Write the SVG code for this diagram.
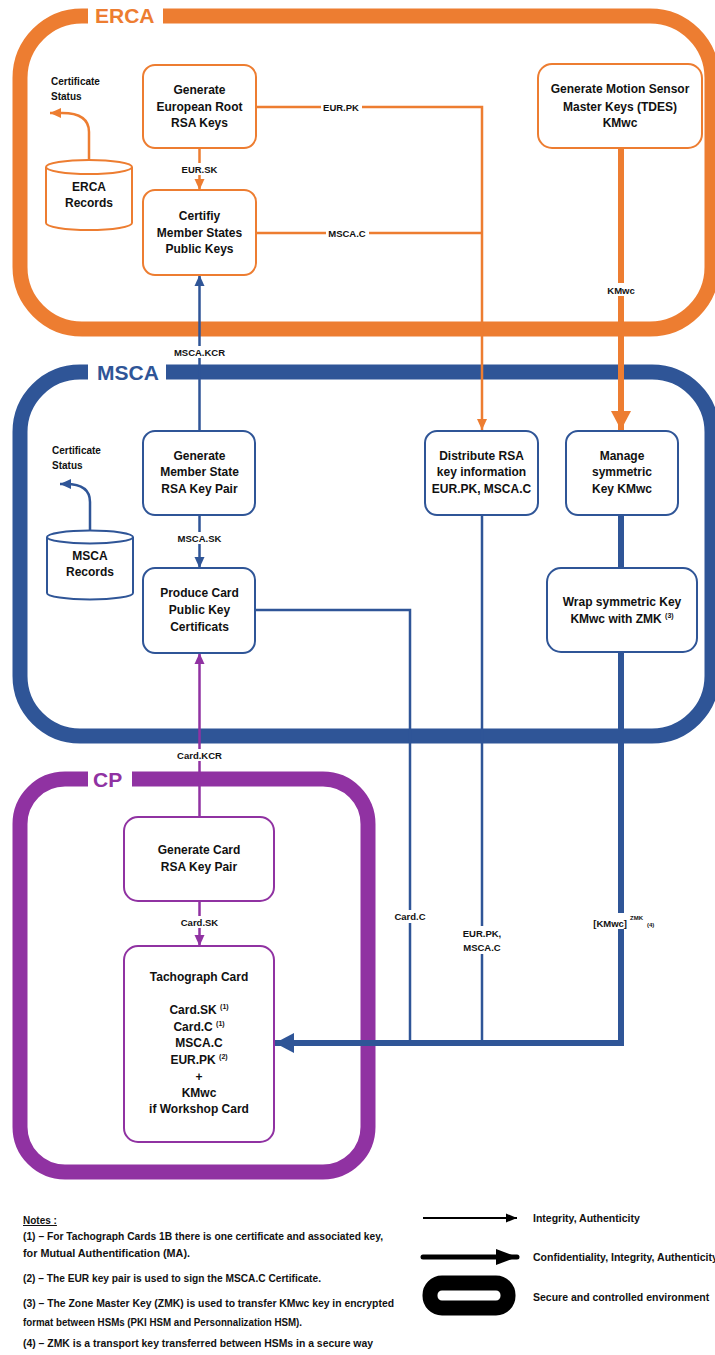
<svg xmlns="http://www.w3.org/2000/svg" width="715" height="1355" viewBox="0 0 715 1355">
<style>
text{font-family:"Liberation Sans",Arial,sans-serif;font-weight:bold;fill:#111}
.nt{font-size:12px;text-anchor:middle}
.el{font-size:9.5px;text-anchor:middle}
.cs{font-size:10px}
.big{font-size:21px}
.node{fill:#fff;stroke-width:2}
.o{stroke:#ED7D31}
.b{stroke:#2F5597}
.p{stroke:#9032A2}
.cont{fill:none;stroke-width:15}
.ln{fill:none;stroke-width:2.5}
.thk{fill:none;stroke-width:6}
.bg{fill:#fff}
.note{font-size:10px}
.leg{font-size:10.5px}
.sup{font-size:7px}
</style>
<defs>
<marker id="ao" markerUnits="userSpaceOnUse" markerWidth="12" markerHeight="12" refX="11" refY="6" orient="auto"><path d="M0,1 L11,6 L0,11 z" fill="#ED7D31"/></marker>
<marker id="ab" markerUnits="userSpaceOnUse" markerWidth="12" markerHeight="12" refX="11" refY="6" orient="auto"><path d="M0,1 L11,6 L0,11 z" fill="#2F5597"/></marker>
<marker id="ap" markerUnits="userSpaceOnUse" markerWidth="12" markerHeight="12" refX="11" refY="6" orient="auto"><path d="M0,1 L11,6 L0,11 z" fill="#9032A2"/></marker>
<marker id="aot" markerUnits="userSpaceOnUse" markerWidth="20" markerHeight="22" refX="19" refY="11" orient="auto"><path d="M0,1 L19,11 L0,21 z" fill="#ED7D31"/></marker>
<marker id="abt" markerUnits="userSpaceOnUse" markerWidth="20" markerHeight="22" refX="19" refY="11" orient="auto"><path d="M0,1 L19,11 L0,21 z" fill="#2F5597"/></marker>
<marker id="ak" markerUnits="userSpaceOnUse" markerWidth="12" markerHeight="12" refX="11" refY="6" orient="auto"><path d="M0,1.5 L11,6 L0,10.5 z" fill="#000"/></marker>
<marker id="akt" markerUnits="userSpaceOnUse" markerWidth="22" markerHeight="20" refX="21" refY="10" orient="auto"><path d="M0,2 L21,10 L0,18 z" fill="#000"/></marker>
</defs>
<rect width="715" height="1355" fill="#fff"/>

<g id="containers">
<g id="erca-env">
<rect class="cont o" x="20" y="16" width="692" height="313" rx="62"/>
<rect class="bg" x="88" y="4" width="75" height="24"/>
<text class="big" x="95" y="23" style="fill:#ED7D31">ERCA</text>
</g>
<g id="msca-env">
<rect class="cont b" x="20" y="372" width="692" height="364" rx="60"/>
<rect class="bg" x="88" y="360" width="78" height="24"/>
<text class="big" x="97" y="380" style="fill:#2F5597">MSCA</text>
</g>
<g id="cp-env">
<rect class="cont p" x="20" y="779" width="348" height="393" rx="45"/>
<rect class="bg" x="88" y="767" width="44" height="24"/>
<text class="big" x="93" y="787" style="fill:#9032A2">CP</text>
</g>
</g>

<g id="connectors">
<!-- ERCA -->
<path class="ln o" d="M89 160 V132 Q89 113 62 113 L50 113" marker-end="url(#ao)"/>
<path class="ln o" d="M199.5 148 V190" marker-end="url(#ao)"/>
<rect class="bg" x="180" y="163" width="39" height="12"/>
<text class="el" x="199.5" y="172.5">EUR.SK</text>
<path class="ln o" d="M256 107 H482 V430" marker-end="url(#ao)"/>
<rect class="bg" x="321" y="101" width="41" height="12"/>
<text class="el" x="341" y="110.5">EUR.PK</text>
<path class="ln o" d="M256 233 H482"/>
<rect class="bg" x="326" y="227" width="43" height="12"/>
<text class="el" x="347" y="236.5">MSCA.C</text>
<path class="thk o" d="M621 148 V430" marker-end="url(#aot)"/>
<rect class="bg" x="603" y="283" width="36" height="13"/>
<text class="el" x="621" y="293.5">KMwc</text>
<!-- MSCA -->
<path class="ln b" d="M199.5 431 V275" marker-end="url(#ab)"/>
<rect class="bg" x="172" y="346" width="55" height="12"/>
<text class="el" x="199.5" y="355.5">MSCA.KCR</text>
<path class="ln b" d="M90 531 V502 Q90 484 66 484 L60 484" marker-end="url(#ab)"/>
<path class="ln b" d="M199.5 515 V568" marker-end="url(#ab)"/>
<rect class="bg" x="176" y="532" width="47" height="12"/>
<text class="el" x="199.5" y="541.5">MSCA.SK</text>
<path class="thk b" d="M621 515 V568"/>
<path class="ln b" d="M255 610 H410 V1043"/>
<path class="ln b" d="M482 515 V1043"/>
<path class="thk b" d="M621 652 V1043 H275" stroke-linejoin="miter" marker-end="url(#abt)"/>
<rect class="bg" x="391" y="910" width="38" height="13"/>
<text class="el" x="410" y="919.5">Card.C</text>
<rect class="bg" x="461" y="926" width="42" height="28"/>
<text class="el" x="482" y="936.5">EUR.PK,</text>
<text class="el" x="482" y="950.5">MSCA.C</text>
<rect class="bg" x="586" y="913" width="42" height="16"/>
<text class="el" x="627" y="926.5" style="text-anchor:end">[KMwc]</text>
<text x="630" y="920" style="font-size:6px">ZMK</text>
<text x="647" y="927" style="font-size:6px">(4)</text>
<!-- CP -->
<path class="ln p" d="M199.5 817 V653" marker-end="url(#ap)"/>
<rect class="bg" x="171" y="749" width="57" height="12"/>
<text class="el" x="199.5" y="758.5">Card.KCR</text>
<path class="ln p" d="M199.5 901 V946" marker-end="url(#ap)"/>
<rect class="bg" x="178" y="916" width="43" height="12"/>
<text class="el" x="199.5" y="925.5">Card.SK</text>
</g>

<g id="erca-records">
<path class="node o" d="M46 167 A43 7 0 0 1 132 167 V223 A43 7 0 0 1 46 223 Z"/>
<path class="o" fill="none" stroke-width="2" d="M46 167 A43 7 0 0 0 132 167"/>
<text class="nt" x="89" y="191">ERCA</text>
<text class="nt" x="89" y="207">Records</text>
<text class="cs" x="51" y="85">Certificate</text>
<text class="cs" x="51" y="100">Status</text>
</g>
<g id="gen-eur-root">
<rect class="node o" x="143" y="65" width="113" height="83" rx="12"/>
<text class="nt" x="199.5" y="94">Generate</text>
<text class="nt" x="199.5" y="111">European Root</text>
<text class="nt" x="199.5" y="127">RSA Keys</text>
</g>
<g id="certify-ms">
<rect class="node o" x="143" y="190" width="113" height="85" rx="12"/>
<text class="nt" x="199.5" y="220">Certifiy</text>
<text class="nt" x="199.5" y="237">Member States</text>
<text class="nt" x="199.5" y="253">Public Keys</text>
</g>
<g id="gen-motion">
<rect class="node o" x="538" y="64" width="164" height="84" rx="14"/>
<text class="nt" x="620" y="93">Generate Motion Sensor</text>
<text class="nt" x="620" y="111">Master Keys (TDES)</text>
<text class="nt" x="620" y="127">KMwc</text>
</g>

<g id="msca-records">
<path class="node b" d="M47 537 A43 6.5 0 0 1 133 537 V593 A43 6.5 0 0 1 47 593 Z"/>
<path class="b" fill="none" stroke-width="2" d="M47 537 A43 6.5 0 0 0 133 537"/>
<text class="nt" x="90" y="560">MSCA</text>
<text class="nt" x="90" y="576">Records</text>
<text class="cs" x="52" y="454">Certificate</text>
<text class="cs" x="52" y="469">Status</text>
</g>
<g id="gen-ms-keypair">
<rect class="node b" x="143" y="431" width="112" height="84" rx="12"/>
<text class="nt" x="199.5" y="460">Generate</text>
<text class="nt" x="199.5" y="476">Member State</text>
<text class="nt" x="199.5" y="493">RSA Key Pair</text>
</g>
<g id="produce-card-cert">
<rect class="node b" x="143" y="568" width="112" height="85" rx="12"/>
<text class="nt" x="199.5" y="597">Produce Card</text>
<text class="nt" x="199.5" y="614">Public Key</text>
<text class="nt" x="199.5" y="631">Certificats</text>
</g>
<g id="distribute-rsa">
<rect class="node b" x="425" y="431" width="113" height="84" rx="12"/>
<text class="nt" x="481.5" y="460">Distribute RSA</text>
<text class="nt" x="481.5" y="476">key information</text>
<text class="nt" x="481.5" y="493">EUR.PK, MSCA.C</text>
</g>
<g id="manage-sym">
<rect class="node b" x="566" y="431" width="112" height="84" rx="12"/>
<text class="nt" x="622" y="460">Manage</text>
<text class="nt" x="622" y="476">symmetric</text>
<text class="nt" x="622" y="493">Key KMwc</text>
</g>
<g id="wrap-sym">
<rect class="node b" x="547" y="568" width="150" height="84" rx="14"/>
<text class="nt" x="622" y="606">Wrap symmetric Key</text>
<text class="nt" x="622" y="623">KMwc with ZMK <tspan class="sup" dy="-5">(3)</tspan></text>
</g>

<g id="gen-card-keypair">
<rect class="node p" x="124" y="817" width="150" height="84" rx="14"/>
<text class="nt" x="199" y="854">Generate Card</text>
<text class="nt" x="199" y="871">RSA Key Pair</text>
</g>
<g id="tacho-card">
<rect class="node p" x="124" y="946" width="150" height="196" rx="14"/>
<text class="nt" x="199" y="981">Tachograph Card</text>
<text class="nt" x="199" y="1014">Card.SK <tspan class="sup" dy="-5">(1)</tspan></text>
<text class="nt" x="199" y="1031">Card.C <tspan class="sup" dy="-5">(1)</tspan></text>
<text class="nt" x="199" y="1047">MSCA.C</text>
<text class="nt" x="199" y="1064">EUR.PK <tspan class="sup" dy="-5">(2)</tspan></text>
<text class="nt" x="199" y="1081">+</text>
<text class="nt" x="199" y="1097">KMwc</text>
<text class="nt" x="199" y="1113">if Workshop Card</text>
</g>

<g id="notes">
<text class="note" x="23" y="1224" text-decoration="underline">Notes :</text>
<text class="note" x="23" y="1240" textLength="360" lengthAdjust="spacingAndGlyphs">(1) – For Tachograph Cards 1B there is one certificate and associated key,</text>
<text class="note" x="23" y="1257" textLength="167" lengthAdjust="spacingAndGlyphs">for Mutual Authentification (MA).</text>
<text class="note" x="23" y="1282" textLength="298" lengthAdjust="spacingAndGlyphs">(2) – The EUR key pair is used to sign the MSCA.C Certificate.</text>
<text class="note" x="23" y="1307" textLength="371" lengthAdjust="spacingAndGlyphs">(3) – The Zone Master Key (ZMK) is used to transfer KMwc key in encrypted</text>
<text class="note" x="23" y="1326" textLength="279" lengthAdjust="spacingAndGlyphs">format between HSMs (PKI HSM and Personnalization HSM).</text>
<text class="note" x="23" y="1347" textLength="350" lengthAdjust="spacingAndGlyphs">(4) – ZMK is a transport key transferred between HSMs in a secure way</text>
</g>

<g id="legend">
<path d="M423 1218 H517" stroke="#000" stroke-width="2" marker-end="url(#ak)"/>
<text class="leg" x="533" y="1222">Integrity, Authenticity</text>
<path d="M423 1257 H517" stroke="#000" stroke-width="5" stroke-linecap="round" marker-end="url(#akt)"/>
<text class="leg" x="533" y="1261">Confidentiality, Integrity, Authenticity</text>
<rect x="430" y="1283" width="78" height="25" rx="12" fill="#fff" stroke="#000" stroke-width="15"/>
<text class="leg" x="533" y="1301">Secure and controlled environment</text>
</g>
</svg>
